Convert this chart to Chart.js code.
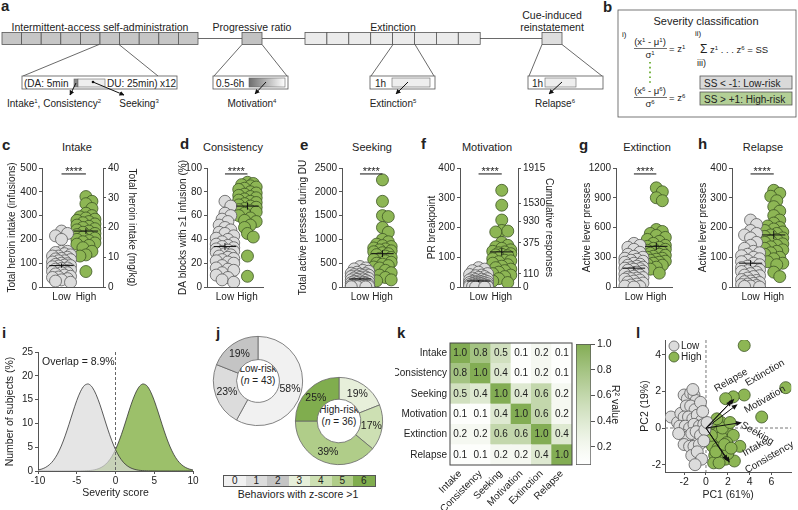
<!DOCTYPE html>
<html>
<head>
<meta charset="utf-8">
<script src="https://cdn.jsdelivr.net/npm/chart.js@4.4.1/dist/chart.umd.min.js"></script>
<style>
  html, body { margin: 0; padding: 0; background: #fff; }
  body { width: 798px; height: 510px; position: relative; overflow: hidden;
         font-family: "Liberation Sans", Arial, sans-serif; color: #222; }
  canvas { position: absolute; }
  .p { position: absolute; font-size: 15px; font-weight: bold; line-height: 15px; }
  .t { position: absolute; white-space: nowrap; font-size: 11px; line-height: 12px; transform: translate(-50%, -50%); }
  .s { position: absolute; white-space: nowrap; font-size: 10px; line-height: 12px; text-align: center; transform: translate(-50%, -50%); }
  .sig { position: absolute; font-size: 11px; line-height: 12px; transform: translateX(-50%); }
  #jleg { position: absolute; left: 223px; top: 475px; display: flex; border: 1px solid #555; }
  #jleg div { width: 21.5px; height: 10px; font-size: 10px; line-height: 10px; text-align: center; }
</style>
</head>
<body>

<svg width="798" height="135" style="position:absolute;left:0;top:0" font-family="Liberation Sans, Arial, sans-serif" font-size="10" fill="#222">
  <defs>
    <marker id="ah" viewBox="0 0 10 10" refX="9" refY="5" markerWidth="5" markerHeight="5" orient="auto">
      <path d="M0,0L10,5L0,10z" fill="#111"/>
    </marker>
    <linearGradient id="gpr" x1="0" x2="1" y1="0" y2="0">
      <stop offset="0" stop-color="#6e6e6e"/><stop offset="1" stop-color="#ffffff"/>
    </linearGradient>
  </defs>
  <text x="1" y="11" font-size="15" font-weight="bold">a</text>
  <text x="100" y="31" text-anchor="middle" font-size="10.5">Intermittent-access self-administration</text>
  <text x="252" y="31" text-anchor="middle" font-size="10.5">Progressive ratio</text>
  <text x="393" y="31" text-anchor="middle" font-size="10.5">Extinction</text>
  <text x="552" y="19" text-anchor="middle" font-size="10.5">Cue-induced</text>
  <text x="552" y="31" text-anchor="middle" font-size="10.5">reinstatement</text>
  <g id="boxes" stroke="#555" stroke-width="0.8"></g>
  <g stroke="#444" stroke-width="0.8" fill="none">
    <line x1="198" y1="38.5" x2="242" y2="38.5"/>
    <line x1="262" y1="38.5" x2="305" y2="38.5"/>
    <line x1="480" y1="38.5" x2="542" y2="38.5"/>
    <line x1="99" y1="44.5" x2="23" y2="76"/><line x1="119" y1="44.5" x2="158" y2="76"/>
    <line x1="242" y1="44.5" x2="214" y2="76"/><line x1="262" y1="44.5" x2="287" y2="76"/>
    <line x1="393" y1="44.5" x2="371" y2="76"/><line x1="415" y1="44.5" x2="434" y2="76"/>
    <line x1="542" y1="44.5" x2="529" y2="76"/><line x1="562" y1="44.5" x2="602" y2="76"/>
  </g>
  <g stroke="#555" stroke-width="0.8" fill="#fff">
    <rect x="22" y="76" width="155" height="13"/>
    <rect x="213" y="76" width="75" height="13"/>
    <rect x="370" y="76" width="65" height="13"/>
    <rect x="528" y="76" width="75" height="13"/>
  </g>
  <rect x="74" y="79" width="4" height="8" fill="#8a8a8a" stroke="#666" stroke-width="0.6"/>
  <rect x="78" y="79" width="27" height="8" fill="#eeeeee" stroke="#666" stroke-width="0.6"/>
  <rect x="249" y="78" width="36" height="9" fill="url(#gpr)" stroke="#666" stroke-width="0.6"/>
  <rect x="392" y="78" width="38" height="9" fill="#eeeeee" stroke="#666" stroke-width="0.6"/>
  <rect x="545" y="78" width="31" height="9" fill="#eeeeee" stroke="#666" stroke-width="0.6"/>
  <text x="24" y="86.5">(DA: 5min</text>
  <text x="107" y="86.5">DU: 25min)</text>
  <text x="160" y="86.5">x12</text>
  <text x="216" y="86.5">0.5-6h</text>
  <text x="375" y="86.5">1h</text>
  <text x="532" y="86.5">1h</text>
  <g stroke="#111" stroke-width="1" marker-end="url(#ah)">
    <line x1="76" y1="83" x2="70" y2="95"/>
    <line x1="93" y1="82" x2="124" y2="95"/>
    <line x1="266" y1="82" x2="255" y2="94"/>
    <line x1="408" y1="82" x2="396" y2="94"/>
    <line x1="562" y1="82" x2="549" y2="94"/>
  </g>
  <circle cx="93" cy="82" r="1.3" fill="#111"/>
  <text x="54" y="106.5" text-anchor="middle">Intake<tspan font-size="6" dy="-4">1</tspan><tspan dy="4">, Consistency</tspan><tspan font-size="6" dy="-4">2</tspan></text>
  <text x="139" y="106.5" text-anchor="middle">Seeking<tspan font-size="6" dy="-4">3</tspan></text>
  <text x="252" y="106.5" text-anchor="middle">Motivation<tspan font-size="6" dy="-4">4</tspan></text>
  <text x="393" y="106.5" text-anchor="middle">Extinction<tspan font-size="6" dy="-4">5</tspan></text>
  <text x="555" y="106.5" text-anchor="middle">Relapse<tspan font-size="6" dy="-4">6</tspan></text>

  <text x="603" y="12" font-size="15" font-weight="bold">b</text>
  <rect x="618" y="10" width="178" height="107" fill="none" stroke="#555" stroke-width="0.8"/>
  <text x="706" y="25" text-anchor="middle" font-size="11">Severity classification</text>
  <text x="622" y="37" font-size="8">i)</text>
  <text x="650" y="45" text-anchor="middle" font-size="9.5">(x<tspan font-size="6" dy="-3">1</tspan><tspan dy="3"> - μ</tspan><tspan font-size="6" dy="-3">1</tspan><tspan dy="3">)</tspan></text>
  <line x1="634" y1="48.5" x2="667" y2="48.5" stroke="#333" stroke-width="0.7"/>
  <text x="650" y="58" text-anchor="middle" font-size="9.5">σ<tspan font-size="6" dy="-3">1</tspan></text>
  <text x="669" y="52" font-size="9.5">= z<tspan font-size="6" dy="-3">1</tspan></text>
  <line x1="650" y1="62" x2="650" y2="86" stroke="#7ab648" stroke-width="2" stroke-dasharray="1.6 3.2"/>
  <text x="650" y="94" text-anchor="middle" font-size="9.5">(x<tspan font-size="6" dy="-3">6</tspan><tspan dy="3"> - μ</tspan><tspan font-size="6" dy="-3">6</tspan><tspan dy="3">)</tspan></text>
  <line x1="634" y1="97.5" x2="667" y2="97.5" stroke="#333" stroke-width="0.7"/>
  <text x="650" y="107" text-anchor="middle" font-size="9.5">σ<tspan font-size="6" dy="-3">6</tspan></text>
  <text x="669" y="101" font-size="9.5">= z<tspan font-size="6" dy="-3">6</tspan></text>
  <text x="695" y="36" font-size="8">ii)</text>
  <text x="700" y="53" font-size="12">Σ</text>
  <text x="710" y="53" font-size="9.5">z<tspan font-size="6" dy="-3">1</tspan><tspan dy="3"> . . . z</tspan><tspan font-size="6" dy="-3">6</tspan><tspan dy="3"> = SS</tspan></text>
  <text x="697" y="66" font-size="9">iii)</text>
  <rect x="700" y="76" width="92" height="13" fill="#d9d9d9" stroke="#555" stroke-width="0.8"/>
  <text x="704" y="86.5" font-size="10">SS &lt;  -1:  Low-risk</text>
  <rect x="700" y="92" width="92" height="13" fill="#b3cf96" stroke="#555" stroke-width="0.8"/>
  <text x="704" y="102.5" font-size="10">SS &gt; +1:  High-risk</text>
</svg>

<div class="p" style="left:2px;top:137px">c</div>
<div class="p" style="left:180px;top:136px">d</div>
<div class="p" style="left:300px;top:137px">e</div>
<div class="p" style="left:421px;top:136px">f</div>
<div class="p" style="left:579px;top:137px">g</div>
<div class="p" style="left:698px;top:136px">h</div>
<div class="p" style="left:2px;top:325px">i</div>
<div class="p" style="left:216px;top:325px">j</div>
<div class="p" style="left:397px;top:325px">k</div>
<div class="p" style="left:636px;top:325px">l</div>

<div class="t" style="left:77px;top:147px">Intake</div>
<div class="t" style="left:233px;top:147px">Consistency</div>
<div class="t" style="left:372px;top:147px">Seeking</div>
<div class="t" style="left:487px;top:147px">Motivation</div>
<div class="t" style="left:647px;top:147px">Extinction</div>
<div class="t" style="left:763px;top:147px">Relapse</div>

<div class="s" style="left:258px;top:375px">Low-risk<br>(<i>n</i> = 43)</div>
<div class="s" style="left:339px;top:416px">High-risk<br>(<i>n</i> = 36)</div>
<div id="jleg"></div>
<div class="s" style="left:298px;top:494px;font-size:10.5px">Behaviors with z-score &gt;1</div>

<script>
// ---- data ----
const groups = ['Low', 'High'];
const sigLabel = '****';

const intakeLow = [235, 225, 215, 200, 150, 145, 140, 135, 130, 125, 120, 118, 115, 110, 105, 100, 98, 95, 92, 90, 88, 85, 80, 78, 75, 72, 70, 68, 65, 60, 55, 50, 45, 42, 40, 35, 30, 25, 20, 150, 60, 110, 130];
const intakeHigh = [380, 360, 350, 330, 310, 300, 295, 290, 285, 280, 275, 270, 265, 260, 255, 250, 245, 240, 235, 230, 225, 220, 215, 210, 205, 200, 195, 190, 185, 180, 175, 165, 150, 135, 130, 65];
const intakeMean = [90, 235];
const intakeSem = [9, 12];

const consLow = [72, 68, 62, 60, 57, 55, 52, 50, 48, 45, 43, 41, 40, 38, 37, 36, 35, 34, 33, 32, 31, 30, 29, 28, 27, 26, 25, 24, 23, 22, 21, 20, 18, 16, 15, 14, 12, 10, 8, 6, 4, 46, 30];
const consHigh = [88, 87, 86, 85, 84, 83, 82, 80, 79, 78, 77, 76, 75, 74, 73, 72, 71, 70, 69, 68, 67, 66, 65, 64, 63, 62, 60, 58, 56, 55, 52, 50, 45, 42, 26, 9];
const consMean = [34, 68];
const consSem = [3, 3];

const seekLow = [430, 400, 380, 350, 330, 310, 290, 280, 270, 260, 250, 240, 230, 220, 210, 200, 190, 180, 170, 160, 150, 140, 130, 120, 110, 100, 95, 90, 80, 70, 60, 50, 45, 40, 35, 30, 25, 20, 15, 10, 8, 5, 2];
const seekHigh = [2250, 1800, 1500, 1480, 1250, 1150, 1000, 950, 900, 870, 850, 820, 800, 780, 760, 740, 720, 700, 680, 650, 620, 600, 580, 550, 520, 500, 480, 450, 420, 400, 350, 300, 250, 200, 150, 130];
const seekMean = [170, 700];
const seekSem = [20, 70];

const motLow = [65, 60, 55, 50, 45, 42, 40, 38, 35, 32, 30, 28, 26, 25, 24, 22, 20, 19, 18, 17, 16, 15, 14, 13, 12, 11, 10, 9, 8, 7, 6, 6, 5, 4, 4, 3, 3, 2, 2, 1, 1, 0, 0];
const motHigh = [325, 275, 225, 190, 188, 185, 150, 140, 135, 130, 125, 120, 118, 115, 112, 110, 108, 105, 100, 95, 90, 88, 85, 80, 75, 70, 65, 60, 55, 50, 45, 40, 35, 28, 20, 15];
const motMean = [20, 118];
const motSem = [3, 12];
const motRespPos = [0, 44, 148, 221, 280, 400];
const motRespLabels = ['0', '110', '375', '930', '1530', '1915'];

const extLow = [440, 420, 400, 380, 350, 330, 310, 300, 290, 280, 270, 260, 250, 240, 230, 220, 210, 200, 195, 190, 185, 180, 170, 160, 150, 140, 130, 120, 110, 100, 95, 90, 85, 80, 70, 60, 50, 40, 30, 20, 10, 5, 0];
const extHigh = [1000, 960, 900, 870, 580, 560, 540, 520, 500, 480, 460, 440, 420, 410, 400, 390, 380, 370, 360, 350, 340, 330, 320, 310, 300, 290, 280, 270, 260, 250, 240, 230, 220, 200, 180, 140];
const extMean = [190, 410];
const extSem = [20, 35];

const relLow = [225, 210, 190, 180, 175, 165, 150, 140, 130, 120, 115, 110, 105, 100, 95, 90, 85, 80, 75, 70, 65, 60, 58, 55, 52, 50, 45, 40, 38, 35, 30, 25, 22, 20, 18, 15, 12, 10, 8, 5, 3, 2, 0];
const relHigh = [325, 315, 305, 290, 270, 255, 240, 225, 215, 205, 200, 195, 190, 185, 180, 175, 170, 165, 160, 155, 150, 145, 140, 135, 130, 125, 120, 115, 110, 100, 95, 85, 80, 75, 50, 35];
const relMean = [80, 175];
const relSem = [10, 14];

const sevX = [-10, -9.5, -9, -8.5, -8, -7.5, -7, -6.5, -6, -5.5, -5, -4.5, -4, -3.5, -3, -2.5, -2, -1.5, -1, -0.5, 0, 0.5, 1, 1.5, 2, 2.5, 3, 3.5, 4, 4.5, 5, 5.5, 6, 6.5, 7, 7.5, 8, 8.5, 9, 9.5, 10];
const sevLow = [0.22, 0.42, 0.78, 1.36, 2.25, 3.53, 5.24, 7.37, 9.81, 12.38, 14.8, 16.76, 17.99, 18.28, 17.6, 16.05, 13.9, 11.36, 8.8, 6.47, 4.5, 2.97, 1.86, 1.10, 0.62, 0.33, 0.16, 0.08, 0.04, 0.02, 0.01, 0, 0, 0, 0, 0, 0, 0, 0, 0, 0];
const sevHigh = [0, 0, 0, 0, 0, 0, 0, 0, 0, 0, 0.01, 0.02, 0.04, 0.08, 0.16, 0.33, 0.62, 1.10, 1.86, 2.97, 4.5, 6.47, 8.8, 11.36, 13.9, 16.05, 17.6, 18.28, 17.99, 16.76, 14.8, 12.38, 9.81, 7.37, 5.24, 3.53, 2.25, 1.36, 0.78, 0.42, 0.22];
const sevXTicks = [-10, -5, 0, 5, 10];
const sevYTicks = [0, 5, 10, 15, 20, 25];
const overlapText = 'Overlap = 8.9%';

const jCats = ['0', '1', '2', '3', '4', '5', '6'];
const jColors = ['#f1f1f1', '#dcdcdc', '#c4c4c4', '#e7efda', '#cde0b3', '#b0cd89', '#80ad4e'];
const jLowPct = [58, 23, 19];
const jHighPct = [19, 17, 39, 25];

const kNames = ['Intake', 'Consistency', 'Seeking', 'Motivation', 'Extinction', 'Relapse'];
const kR2 = [
  [1.0, 0.8, 0.5, 0.1, 0.2, 0.1],
  [0.8, 1.0, 0.4, 0.1, 0.2, 0.1],
  [0.5, 0.4, 1.0, 0.4, 0.6, 0.2],
  [0.1, 0.1, 0.4, 1.0, 0.6, 0.2],
  [0.2, 0.2, 0.6, 0.6, 1.0, 0.4],
  [0.1, 0.1, 0.2, 0.2, 0.4, 1.0]
];
const kBarTicks = [0.2, 0.4, 0.6, 0.8, 1.0];

const pcLowX = [-3.2, -2.6, -2.3, -2.0, -1.7, -1.4, -1.1, -0.9, -0.7, -1.8, -1.4, -1.0, -2.0, -1.6, -1.2, -0.8, -0.4, -2.4, -1.9, -1.5, -1.1, -0.6, -0.2, -2.1, -1.7, -1.3, -0.9, -0.5, -0.1, -2.0, -1.5, -1.1, -0.6, -0.2, -1.3, -0.8, -0.4, -1.0, 0.1, -2.5, -1.2, -0.5, -0.3];
const pcLowY = [0.6, 0.3, 0.8, 1.8, 1.6, 1.9, 1.8, 1.5, 1.2, 1.2, 1.2, 1.0, 0.6, 0.6, 0.5, 0.7, 0.4, 0.1, 0.1, 0.0, 0.2, 0.1, 0.2, -0.4, -0.5, -0.3, -0.2, -0.4, -0.1, -0.9, -1.0, -1.0, -0.9, -0.7, -1.5, -1.3, -1.7, -2.0, 0.3, -0.3, 2.1, 1.4, 0.9];
const pcHighX = [3.5, 7.3, 3.5, 2.5, 1.8, 5.1, 0.6, 1.0, 1.4, 1.8, 0.8, 1.2, 1.6, 2.0, 2.5, 0.9, 1.4, 1.9, 0.6, 1.1, 1.6, 3.1, 0.8, 1.3, 1.8, 2.6, 0.7, 1.2, 2.0, 0.5, 1.5, 2.2, 0.9, 1.7, 1.0, 2.3];
const pcHighY = [4.5, 2.2, 1.8, 1.7, 1.6, 0.6, 0.1, 0.2, 0.3, 0.0, -0.3, -0.2, -0.4, -0.2, -0.4, -0.6, -0.5, -0.8, -1.0, -1.1, -1.2, -1.0, -1.5, -1.6, -1.7, -1.8, -1.9, -1.9, -1.4, -0.4, 0.0, 0.3, -1.3, -0.9, 0.5, -1.1];
const lNames = ['Relapse', 'Extinction', 'Motivation', 'Seeking', 'Intake', 'Consistency'];
const lLoadX = [2.4, 2.6, 2.9, 3.3, 2.0, 2.2];
const lLoadY = [1.5, 1.6, 1.3, 0.3, -1.8, -1.9];
const lXTicks = [-2, 0, 2, 4, 6];
const lYTicks = [-2, 0, 2, 4];

// ---- style ----
const F = '"Liberation Sans", Arial, sans-serif';
const AX = '#555';
const LOWFILL = '#dcdcdc', LOWEDGE = '#5a5a5a';
const HIGHFILL = '#8db654', HIGHEDGE = '#3d5524';
// where the loading names sit (data units) and their tilt
const lTextX = [2.3, 5.4, 5.4, 4.7, 4.5, 5.8];
const lTextY = [2.6, 3.0, 1.55, -0.3, -1.05, -1.6];
const lTextRot = [-30, -30, -30, 30, -30, -30];

Chart.defaults.font.family = F;
Chart.defaults.font.size = 10;
Chart.defaults.color = '#222';
Chart.defaults.animation = false;
Chart.defaults.responsive = false;
Chart.defaults.events = [];
Chart.defaults.plugins.legend.display = false;
Chart.defaults.plugins.tooltip.enabled = false;

function canvasAt(left, top, w, h) {
  const c = document.createElement('canvas');
  c.width = w; c.height = h;
  c.style.left = left + 'px'; c.style.top = top + 'px';
  document.body.appendChild(c);
  return c;
}

// schematic boxes in panel a
const SVGNS = 'http://www.w3.org/2000/svg';
function box(x, w, fill) {
  const r = document.createElementNS(SVGNS, 'rect');
  r.setAttribute('x', x); r.setAttribute('y', 32.5);
  r.setAttribute('width', w); r.setAttribute('height', 12);
  r.setAttribute('fill', fill);
  document.getElementById('boxes').appendChild(r);
}
for (let i = 0; i < 10; i++) box(2 + i * 19.6, 19.6, '#c6c6c6');
box(242, 20, '#c2c2c2');
for (let i = 0; i < 8; i++) box(305 + i * 21.9, 21.9, '#ebebeb');
box(542, 20, '#dedede');

// beeswarm-style spread of a group (pixel based, deterministic)
function swarm(vals, center, ppx, ppy) {
  const placed = [];
  const offs = [0, 3, -3, 6, -6, 9, -9];
  return vals.slice().sort((a, b) => b - a).map(v => {
    const py = v * ppy;
    let best = 0, bestD = -1;
    for (const o of offs) {
      let d = Infinity;
      for (const p of placed) d = Math.min(d, Math.hypot(p[0] - o, p[1] - py));
      if (d >= 6) { best = o; break; }
      if (d > bestD) { bestD = d; best = o; }
    }
    placed.push([best, py]);
    return { x: center + best / ppx, y: v };
  });
}

function segment(pts) {
  return { data: pts.map(([x, y]) => ({ x, y })), showLine: true, borderColor: '#111', borderWidth: 1,
    pointRadius: 0, clip: false };
}

function strip(p) {
  const cv = canvasAt(p.left, 140, p.width, 170);
  const ppx = (p.right - p.axis) / 2.5, ppy = 119 / p.yMax;
  let padRight = p.left + p.width - p.right;
  const scales = {
    x: { type: 'linear', min: 0.2, max: 2.7,
      afterBuildTicks: s => { s.ticks = groups.map((g, i) => ({ value: i + 1 })); },
      ticks: { callback: v => groups[v - 1], padding: 4 },
      grid: { display: false, drawTicks: false }, border: { color: AX, width: 1 },
      afterFit: s => { s.height = 23; } },
    y: { type: 'linear', position: 'left', min: 0, max: p.yMax,
      afterBuildTicks: s => { s.ticks = p.yTicks.map(v => ({ value: v })); },
      ticks: { callback: v => String(v), padding: 2 },
      grid: { drawOnChartArea: false, tickLength: 3, color: AX }, border: { color: AX, width: 1 },
      title: { display: true, text: p.yTitle, padding: { top: p.tpad } },
      afterFit: s => { s.width = p.axis - p.left; } }
  };
  if (p.y2) {
    const w2 = padRight;
    scales.y2 = { type: 'linear', position: 'right', min: 0, max: p.y2.max,
      afterBuildTicks: s => { s.ticks = p.y2.ticks.map(v => ({ value: v })); },
      ticks: { callback: v => p.y2.labels ? p.y2.labels[p.y2.ticks.indexOf(v)] : String(v), padding: 2 },
      grid: { drawOnChartArea: false, tickLength: 3, color: AX }, border: { color: AX, width: 1 },
      title: { display: true, text: p.y2.title, padding: { top: p.y2.tpad } },
      afterFit: s => { s.width = w2; } };
    padRight = 0;
  }
  const marks = [];
  groups.forEach((g, i) => {
    const m = p.mean[i], e = p.sem[i];
    marks.push(segment([[i + 0.5, m], [i + 1.5, m]]), segment([[i + 1, m - e], [i + 1, m + e]]));
  });
  const sigY = p.yMax * 0.95;
  marks.push(segment([[1, sigY], [2, sigY]]));
  const ch = new Chart(cv, {
    type: 'scatter',
    data: { datasets: marks.concat([
      { data: swarm(p.low, 1, ppx, ppy), pointBackgroundColor: LOWFILL, pointBorderColor: LOWEDGE, pointBorderWidth: 0.8, pointRadius: 6 },
      { data: swarm(p.high, 2, ppx, ppy), pointBackgroundColor: HIGHFILL, pointBorderColor: HIGHEDGE, pointBorderWidth: 0.8, pointRadius: 6 }
    ]) },
    options: { layout: { padding: { top: 28, right: padRight, left: 0, bottom: 0 } }, scales }
  });
  const sg = document.createElement('div');
  sg.className = 'sig';
  sg.textContent = sigLabel;
  sg.style.left = (p.left + ch.scales.x.getPixelForValue(1.5)) + 'px';
  sg.style.top = (140 + ch.scales.y.getPixelForValue(sigY) - 9) + 'px';
  document.body.appendChild(sg);
}

strip({ left: 0, width: 145, axis: 42, right: 103, yMax: 500, yTicks: [0, 100, 200, 300, 400, 500],
  yTitle: 'Total heroin intake (infusions)', tpad: 6, low: intakeLow, high: intakeHigh, mean: intakeMean, sem: intakeSem,
  y2: { max: 40, ticks: [0, 10, 20, 30, 40], labels: null, title: 'Total heroin intake (mg/kg)', tpad: 7 } });
strip({ left: 170, width: 100, axis: 207, right: 265, yMax: 100, yTicks: [0, 20, 40, 60, 80, 100],
  yTitle: 'DA blocks with \u22651 infusion (%)', tpad: 7, low: consLow, high: consHigh, mean: consMean, sem: consSem });
strip({ left: 290, width: 115, axis: 342, right: 400, yMax: 2500, yTicks: [0, 500, 1000, 1500, 2000, 2500],
  yTitle: 'Total active presses during DU', tpad: 7, low: seekLow, high: seekHigh, mean: seekMean, sem: seekSem });
strip({ left: 418, width: 140, axis: 460, right: 518, yMax: 400, yTicks: [0, 100, 200, 300, 400],
  yTitle: 'PR breakpoint', tpad: 8, low: motLow, high: motHigh, mean: motMean, sem: motSem,
  y2: { max: 400, ticks: motRespPos, labels: motRespLabels, title: 'Cumulative responses', tpad: 3 } });
strip({ left: 572, width: 108, axis: 616, right: 672, yMax: 1200, yTicks: [0, 300, 600, 900, 1200],
  yTitle: 'Active lever presses', tpad: 9, low: extLow, high: extHigh, mean: extMean, sem: extSem });
strip({ left: 690, width: 108, axis: 732, right: 790, yMax: 400, yTicks: [0, 100, 200, 300, 400],
  yTitle: 'Active lever presses', tpad: 7, low: relLow, high: relHigh, mean: relMean, sem: relSem });

// ---- i: severity score distributions ----
const sevDeco = {
  id: 'sevDeco',
  afterDatasetsDraw(chart) {
    const { ctx, chartArea: a, scales: { x, y } } = chart;
    ctx.save();
    ctx.strokeStyle = '#666'; ctx.lineWidth = 1; ctx.setLineDash([3, 2]);
    const x0 = x.getPixelForValue(0);
    ctx.beginPath(); ctx.moveTo(x0, a.top); ctx.lineTo(x0, a.bottom); ctx.stroke();
    ctx.fillStyle = '#222'; ctx.font = '10.5px ' + F; ctx.textAlign = 'center'; ctx.textBaseline = 'middle';
    ctx.fillText(overlapText, x.getPixelForValue(-4.8), y.getPixelForValue(22.9));
    ctx.restore();
  }
};
new Chart(canvasAt(0, 330, 205, 180), {
  type: 'line',
  data: {
    datasets: [
      { data: sevX.map((v, i) => ({ x: v, y: sevLow[i] })), borderColor: '#333', borderWidth: 0.8,
        backgroundColor: 'rgba(218,218,218,0.7)', fill: 'origin', pointRadius: 0, tension: 0.3 },
      { data: sevX.map((v, i) => ({ x: v, y: sevHigh[i] })), borderColor: '#333', borderWidth: 0.8,
        backgroundColor: '#9cc06a', fill: 'origin', pointRadius: 0, tension: 0.3 }
    ]
  },
  options: {
    layout: { padding: { top: 22, right: 12 } },
    scales: {
      x: { type: 'linear', min: -10, max: 10,
        afterBuildTicks: s => { s.ticks = sevXTicks.map(v => ({ value: v })); },
        ticks: { padding: 1 }, grid: { drawOnChartArea: false, tickLength: 3, color: AX },
        border: { color: AX, width: 1 },
        title: { display: true, text: 'Severity score', font: { size: 10.5 }, padding: { bottom: 11 } },
        afterFit: s => { s.height = 39; } },
      y: { type: 'linear', min: 0, max: 25,
        afterBuildTicks: s => { s.ticks = sevYTicks.map(v => ({ value: v })); },
        ticks: { padding: 2 }, grid: { drawOnChartArea: false, tickLength: 3, color: AX },
        border: { color: AX, width: 1 },
        title: { display: true, text: 'Number of subjects (%)', font: { size: 10.5 }, padding: { top: 4 } },
        afterFit: s => { s.width = 38; } }
    }
  },
  plugins: [sevDeco]
});

// ---- j: doughnuts ----
const donutText = {
  id: 'donutText',
  afterDatasetsDraw(chart) {
    const { ctx } = chart;
    const vals = chart.data.datasets[0].data;
    ctx.save();
    ctx.font = '10.5px ' + F; ctx.fillStyle = '#222'; ctx.textAlign = 'center'; ctx.textBaseline = 'middle';
    chart.getDatasetMeta(0).data.forEach((arc, i) => {
      const pt = arc.tooltipPosition(true);
      ctx.fillText(vals[i] + '%', pt.x, pt.y);
    });
    ctx.restore();
  }
};
function donut(left, top, size, vals, colors, cut) {
  new Chart(canvasAt(left, top, size, size), {
    type: 'doughnut',
    data: { labels: vals.map(String), datasets: [{ data: vals, backgroundColor: colors, borderColor: '#666', borderWidth: 0.8 }] },
    options: { cutout: cut, layout: { padding: 1 } },
    plugins: [donutText]
  });
}
donut(212, 335, 92, jLowPct, jColors.slice(0, 3), '48%');
donut(294, 376, 90, jHighPct, jColors.slice(3), '50%');
const jleg = document.getElementById('jleg');
jCats.forEach((c, i) => {
  const d = document.createElement('div');
  d.textContent = c; d.style.background = jColors[i];
  jleg.appendChild(d);
});

// ---- k: R² heatmap ----
function kColor(v) {
  const t = Math.pow(Math.max(0, Math.min(1, (v - 0.06) / 0.94)), 1.3);
  const lo = [255, 255, 255], hi = [131, 173, 84];
  return 'rgb(' + lo.map((c, i) => Math.round(c + (hi[i] - c) * t)).join(',') + ')';
}
const heatText = {
  id: 'heatText',
  afterDatasetsDraw(chart) {
    const { ctx, chartArea: a } = chart;
    ctx.save();
    ctx.font = '10px ' + F; ctx.fillStyle = '#222'; ctx.textAlign = 'center'; ctx.textBaseline = 'middle';
    chart.data.datasets.forEach((ds, d) => {
      chart.getDatasetMeta(d).data.forEach((el, c) => {
        ctx.fillText(kR2[ds.row][c].toFixed(1), el.x, (el.y + el.base) / 2);
      });
    });
    ctx.strokeStyle = '#444'; ctx.lineWidth = 1;
    ctx.strokeRect(a.left, a.top, a.right - a.left, a.bottom - a.top);
    ctx.restore();
  }
};
new Chart(canvasAt(395, 330, 182, 180), {
  type: 'bar',
  data: {
    labels: kNames,
    datasets: kNames.map((r, i) => ({
      row: i, data: kR2[i].map(() => 1), backgroundColor: kR2[i].map(kColor),
      borderWidth: 0, stack: 'k', barPercentage: 1, categoryPercentage: 1
    })).reverse()
  },
  options: {
    layout: { padding: { top: 13, right: 5 } },
    scales: {
      x: { stacked: true, grid: { display: false, drawTicks: false }, border: { display: false },
        ticks: { minRotation: 45, maxRotation: 45, autoSkip: false, padding: 3 },
        afterFit: s => { s.height = 45; } },
      y: { stacked: true, min: 0, max: 6,
        afterBuildTicks: s => { s.ticks = kNames.map((n, i) => ({ value: i + 0.5 })); },
        ticks: { callback: v => kNames[kNames.length - 1 - Math.floor(v)], padding: 3 },
        grid: { display: false, drawTicks: false }, border: { display: false },
        afterFit: s => { s.width = 55; } }
    }
  },
  plugins: [heatText]
});
new Chart(canvasAt(570, 330, 60, 180), {
  type: 'bar',
  data: {
    labels: [''],
    datasets: [{
      data: [[0.06, 1.0]],
      backgroundColor: ctx => {
        const a = ctx.chart.chartArea;
        if (!a) return '#fff';
        const g = ctx.chart.ctx.createLinearGradient(0, a.bottom, 0, a.top);
        for (let i = 0; i <= 10; i++) g.addColorStop(i / 10, kColor(0.06 + 0.94 * i / 10));
        return g;
      },
      borderColor: '#555', borderWidth: 1, borderSkipped: false, barPercentage: 1, categoryPercentage: 1
    }]
  },
  options: {
    layout: { padding: { left: 6, top: 14, bottom: 45 } },
    scales: {
      x: { display: false },
      y: { position: 'right', min: 0.06, max: 1.0,
        afterBuildTicks: s => { s.ticks = kBarTicks.map(v => ({ value: v })); },
        ticks: { callback: v => v.toFixed(1), padding: 2, font: { size: 10.5 } },
        grid: { drawOnChartArea: false, tickLength: 4, color: '#555' }, border: { display: false },
        title: { display: true, text: 'R\u00b2 value', font: { size: 10.5 }, padding: { top: 9 } },
        afterFit: s => { s.width = 39; } }
    }
  }
});

// ---- l: PCA ----
const pcaDeco = {
  id: 'pcaDeco',
  beforeDatasetsDraw(chart) {
    const { ctx, chartArea: a, scales: { x, y } } = chart;
    const x0 = x.getPixelForValue(0), y0 = y.getPixelForValue(0);
    ctx.save();
    ctx.strokeStyle = '#777'; ctx.lineWidth = 1; ctx.setLineDash([3, 2]);
    ctx.beginPath();
    ctx.moveTo(x0, a.top); ctx.lineTo(x0, a.bottom);
    ctx.moveTo(a.left, y0); ctx.lineTo(a.right, y0);
    ctx.stroke();
    ctx.restore();
  },
  afterDatasetsDraw(chart) {
    const { ctx, chartArea: a, scales: { x, y } } = chart;
    const x0 = x.getPixelForValue(0), y0 = y.getPixelForValue(0);
    ctx.save();
    ctx.strokeStyle = '#111'; ctx.fillStyle = '#111'; ctx.lineWidth = 1;
    lNames.forEach((n, i) => {
      const x1 = x.getPixelForValue(lLoadX[i]), y1 = y.getPixelForValue(lLoadY[i]);
      const ang = Math.atan2(y1 - y0, x1 - x0), c = Math.cos(ang), s = Math.sin(ang);
      ctx.beginPath(); ctx.moveTo(x0, y0); ctx.lineTo(x1 - 5 * c, y1 - 5 * s); ctx.stroke();
      ctx.beginPath(); ctx.moveTo(x1, y1);
      ctx.lineTo(x1 - 6 * c + 2.5 * s, y1 - 6 * s - 2.5 * c);
      ctx.lineTo(x1 - 6 * c - 2.5 * s, y1 - 6 * s + 2.5 * c);
      ctx.closePath(); ctx.fill();
    });
    ctx.font = '10px ' + F; ctx.fillStyle = '#222'; ctx.textAlign = 'center'; ctx.textBaseline = 'middle';
    lNames.forEach((n, i) => {
      ctx.save();
      ctx.translate(x.getPixelForValue(lTextX[i]), y.getPixelForValue(lTextY[i]));
      ctx.rotate(lTextRot[i] * Math.PI / 180);
      ctx.fillText(n, 0, 0);
      ctx.restore();
    });
    [[groups[0], LOWFILL, LOWEDGE], [groups[1], HIGHFILL, HIGHEDGE]].forEach(([t, f, e], i) => {
      const cx = a.left + 9, cy = a.top + 6 + i * 11;
      ctx.beginPath(); ctx.arc(cx, cy, 5, 0, 2 * Math.PI);
      ctx.fillStyle = f; ctx.fill(); ctx.strokeStyle = e; ctx.lineWidth = 0.8; ctx.stroke();
      ctx.fillStyle = '#222'; ctx.textAlign = 'left'; ctx.fillText(t, cx + 7, cy);
    });
    ctx.restore();
  }
};
new Chart(canvasAt(630, 330, 168, 180), {
  type: 'scatter',
  data: {
    datasets: [
      { data: pcLowX.map((v, i) => ({ x: v, y: pcLowY[i] })), pointBackgroundColor: LOWFILL, pointBorderColor: LOWEDGE, pointBorderWidth: 0.8, pointRadius: 6 },
      { data: pcHighX.map((v, i) => ({ x: v, y: pcHighY[i] })), pointBackgroundColor: HIGHFILL, pointBorderColor: HIGHEDGE, pointBorderWidth: 0.8, pointRadius: 6 }
    ]
  },
  options: {
    layout: { padding: { top: 10, right: 3 } },
    scales: {
      x: { type: 'linear', min: -3.75, max: 7.8,
        afterBuildTicks: s => { s.ticks = lXTicks.map(v => ({ value: v })); },
        ticks: { padding: 1, font: { size: 10.5 } }, grid: { drawOnChartArea: false, tickLength: 3, color: AX },
        border: { color: AX, width: 1 },
        title: { display: true, text: 'PC1 (61%)', font: { size: 10.5 }, padding: { bottom: 9 } },
        afterFit: s => { s.height = 38; } },
      y: { type: 'linear', min: -2.4, max: 4.8,
        afterBuildTicks: s => { s.ticks = lYTicks.map(v => ({ value: v })); },
        ticks: { padding: 1, font: { size: 10.5 } }, grid: { drawOnChartArea: false, tickLength: 3, color: AX },
        border: { color: AX, width: 1 },
        title: { display: true, text: 'PC2 (19%)', font: { size: 10.5 }, padding: { top: 9 } },
        afterFit: s => { s.width = 35; } }
    }
  },
  plugins: [pcaDeco]
});
</script>
</body>
</html>
